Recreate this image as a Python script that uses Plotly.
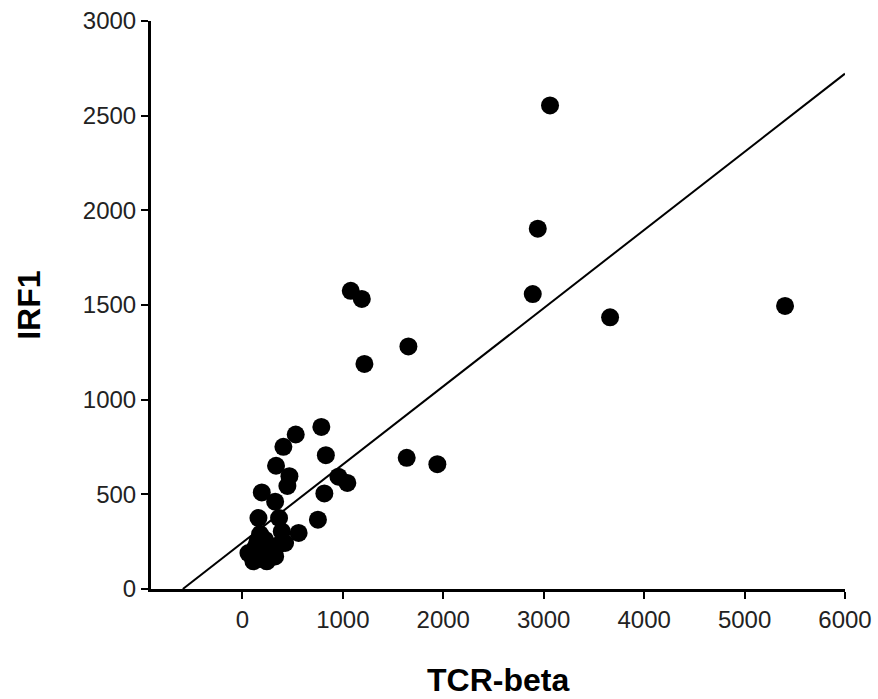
import plotly.graph_objects as go

# Scatter data
tcr_beta = [3063, 2941, 2891, 3661, 5403, 1079, 1189, 1653, 1215, 1636, 1941,
            786, 531, 408, 831, 335, 468, 448, 956, 1045, 816, 193, 326,
            160, 365, 752, 560,
            110, 60, 130, 226, 176, 250, 326, 243, 350, 392, 425, 180, 300, 150]
irf1 = [2554, 1903, 1558, 1435, 1495, 1575, 1532, 1281, 1189, 693, 659,
        856, 816, 751, 707, 651, 596, 544, 593, 560, 505, 510, 461,
        375, 375, 366, 296,
        146, 190, 220, 260, 290, 200, 172, 146, 230, 304, 243, 160, 190, 250]

# Regression line end points (data units)
fit_x = [-593, 6000]
fit_y = [0, 2722]

x_ticks = [0, 1000, 2000, 3000, 4000, 5000, 6000]
y_ticks = [0, 500, 1000, 1500, 2000, 2500, 3000]
x_title = "TCR-beta"
y_title = "IRF1"

fig = go.Figure()
fig.add_trace(go.Scatter(x=fit_x, y=fit_y, mode="lines",
                         line=dict(color="black", width=2), hoverinfo="skip"))
fig.add_trace(go.Scatter(x=tcr_beta, y=irf1, mode="markers",
                         marker=dict(color="black", size=18, line=dict(width=0))))

font = "Liberation Sans, Arial, sans-serif"
fig.update_layout(
    width=878, height=699,
    margin=dict(l=151, r=33, t=21, b=110, autoexpand=False),
    paper_bgcolor="white", plot_bgcolor="white",
    showlegend=False,
    font=dict(family=font, color="black"),
    xaxis=dict(range=[-910, 6000], tickvals=x_ticks, ticktext=[str(v) for v in x_ticks],
               showline=True, linecolor="black", linewidth=3,
               ticks="outside", ticklen=7, tickwidth=2, tickcolor="black",
               showgrid=False, zeroline=False, automargin=False,
               tickfont=dict(size=24, family=font, color="#222")),
    yaxis=dict(range=[0, 3000], tickvals=y_ticks, ticktext=[str(v) for v in y_ticks],
               showline=True, linecolor="black", linewidth=3,
               ticks="outside", ticklen=7, tickwidth=2, tickcolor="black",
               showgrid=False, zeroline=False, automargin=False,
               tickfont=dict(size=24, family=font, color="#222")),
    annotations=[
        dict(text="<b>%s</b>" % x_title, xref="paper", yref="paper", x=0.5, y=-0.16,
             xanchor="center", yanchor="middle", showarrow=False,
             font=dict(size=32, family=font, color="black")),
        dict(text="<b>%s</b>" % y_title, xref="paper", yref="paper", x=-0.176, y=0.5,
             xanchor="center", yanchor="middle", showarrow=False, textangle=-90,
             font=dict(size=32, family=font, color="black")),
    ],
)

fig.write_html("out.html")
